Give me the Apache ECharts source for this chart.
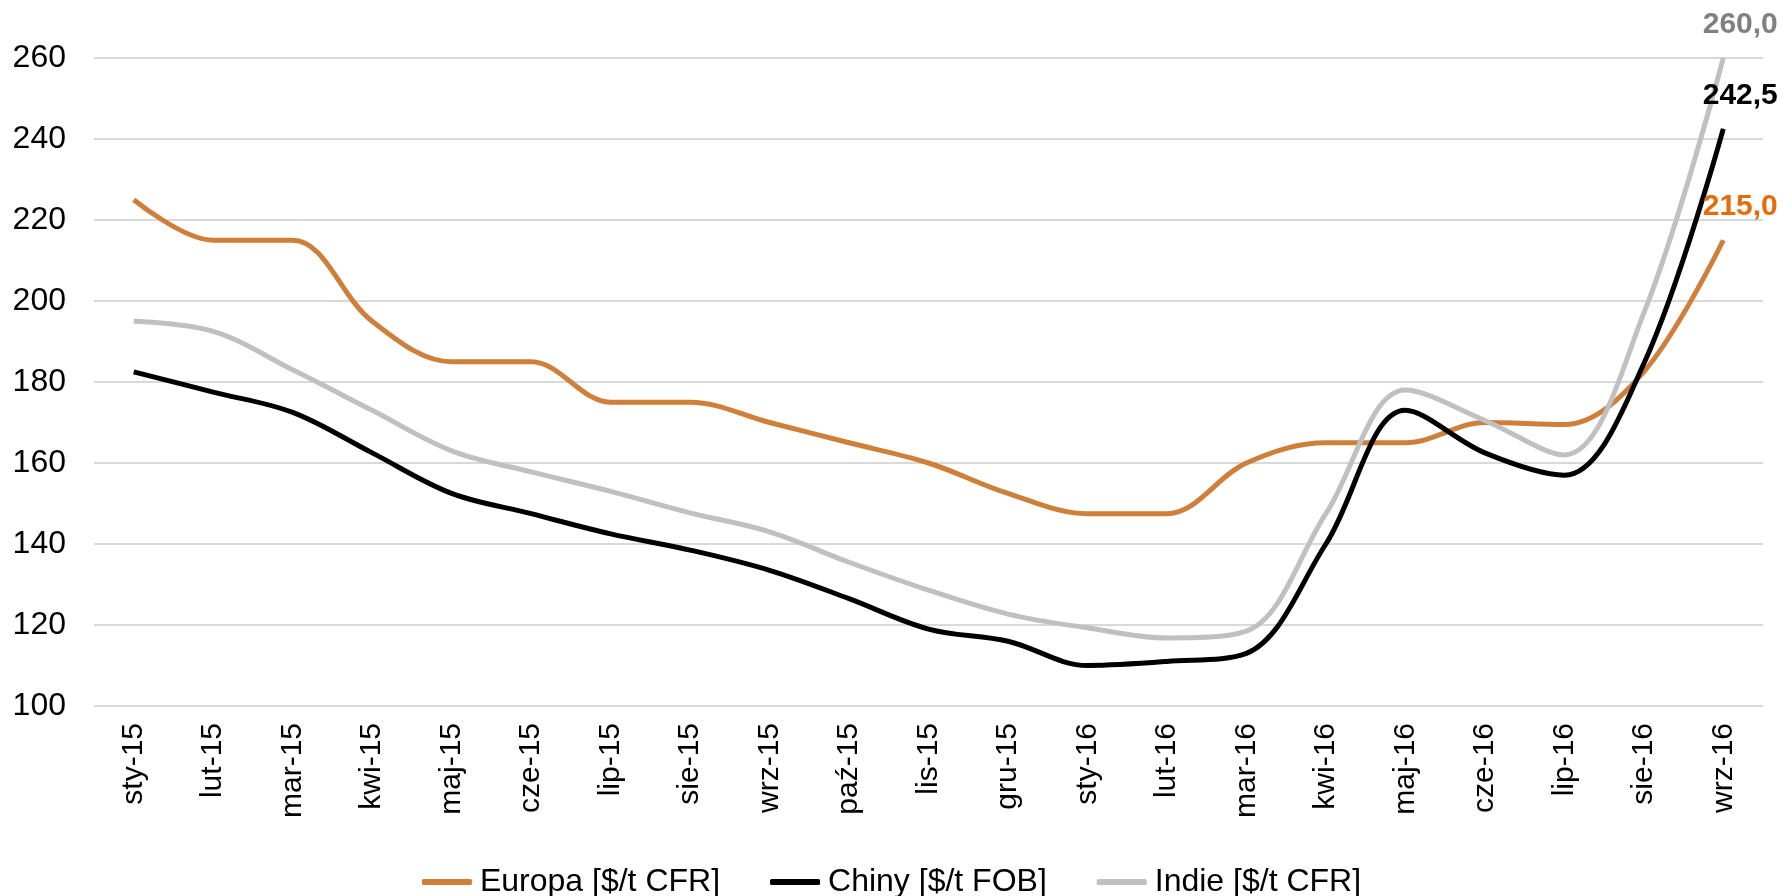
<!DOCTYPE html>
<html>
<head>
<meta charset="utf-8">
<script src="https://cdn.jsdelivr.net/npm/echarts@6/dist/echarts.min.js"></script>
<style>
  html, body { margin: 0; padding: 0; background: #fff; }
  #chartLine { width: 1783px; height: 896px; }
</style>
</head>
<body>
<div id="chartLine"></div>
<script>
const months = ['sty-15', 'lut-15', 'mar-15', 'kwi-15', 'maj-15', 'cze-15', 'lip-15', 'sie-15', 'wrz-15', 'paź-15', 'lis-15',
  'gru-15', 'sty-16', 'lut-16', 'mar-16', 'kwi-16', 'maj-16', 'cze-16', 'lip-16', 'sie-16', 'wrz-16']
const europa = [225, 215, 215, 195, 185, 185, 175, 175, 170, 165, 160, 152.5, 147.5, 147.5, 160, 165, 165, 170, 169.5, 182.5, 215]
const chiny = [182.5, 177.5, 172.5, 162.5, 152.5, 147.5, 142.5, 138.5, 133.5, 126.5, 119, 116, 110, 111, 113, 140, 173, 162.5, 157, 184.5, 242.5]
const indie = [195, 192.5, 183, 173, 163, 157.8, 153, 147.7, 143, 135.5, 128.6, 122.7, 119.3, 116.8, 118.5, 147.5, 178, 170.5, 162, 197, 260]
const yTicks = { min: 100, max: 260, step: 20 }

const font = 'Arial, "Liberation Sans", sans-serif'

// only the last point gets a value label, in Polish number format
function withEndLabel(values, color) {
  return values.map((v, i) => {
    if (i !== values.length - 1) return v
    return {
      value: v,
      symbol: 'circle',
      symbolSize: 1,
      label: {
        show: true,
        position: 'top',
        offset: [17, -13],
        formatter: (p) => p.value.toFixed(1).replace('.', ','),
        color: color,
        fontFamily: font,
        fontWeight: 'bold',
        fontSize: 30
      }
    }
  })
}

function lineSeries(name, values, color, labelColor) {
  return {
    name: name,
    type: 'line',
    data: withEndLabel(values, labelColor),
    smooth: 0.35,
    symbol: 'none',
    showSymbol: true,
    lineStyle: { color: color, width: 5 },
    itemStyle: { color: color }
  }
}

const option = {
  animation: false,
  grid: { left: 94, right: 20, top: 58, bottom: 190 },
  legend: {
    top: 861,
    left: 'center',
    icon: 'roundRect',
    itemWidth: 50,
    itemHeight: 6,
    itemGap: 50,
    textStyle: { color: '#000', fontFamily: font, fontSize: 32, padding: [0, 0, 0, 3] },
    data: ['Europa [$/t CFR]', 'Chiny [$/t FOB]', 'Indie [$/t CFR]']
  },
  xAxis: {
    type: 'category',
    data: months,
    boundaryGap: true,
    axisLine: { show: false },
    axisTick: { show: false },
    axisLabel: { rotate: 90, margin: 17, color: '#000', fontFamily: font, fontSize: 30 }
  },
  yAxis: {
    type: 'value',
    min: yTicks.min,
    max: yTicks.max,
    interval: yTicks.step,
    axisLine: { show: false },
    axisTick: { show: false },
    axisLabel: { margin: 28, color: '#000', fontFamily: font, fontSize: 32 },
    splitLine: { lineStyle: { color: '#d9d9d9', width: 2 } }
  },
  series: [
    lineSeries('Europa [$/t CFR]', europa, '#d07f3b', '#e46c0a'),
    lineSeries('Chiny [$/t FOB]', chiny, '#000000', '#000000'),
    lineSeries('Indie [$/t CFR]', indie, '#c0c0c0', '#808080')
  ]
}

const myChart = echarts.init(document.getElementById('chartLine'))
myChart.setOption(option)
window.addEventListener('resize', () => {
  myChart.resize()
})
</script>
</body>
</html>
